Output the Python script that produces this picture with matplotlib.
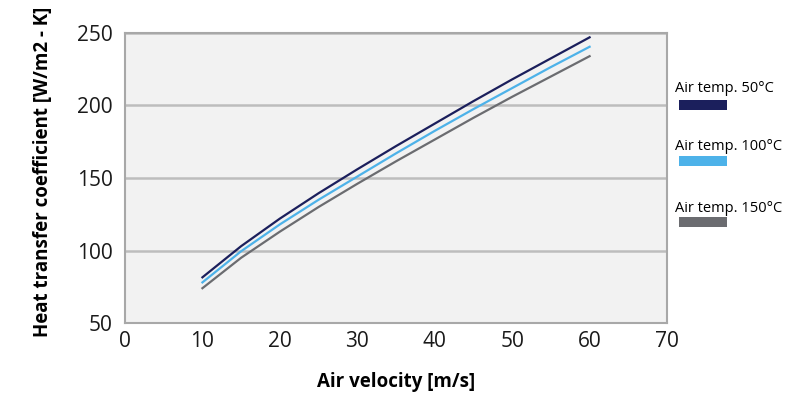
"""Heat transfer coefficient vs air velocity for three air temperatures."""

import matplotlib
import matplotlib.pyplot as plt
from matplotlib.patches import Rectangle

matplotlib.use("Agg")

plt.rcParams["font.family"] = ["Open Sans", "DejaVu Sans"]

# data
velocity = [10, 15, 20, 25, 30, 35, 40, 45, 50, 55, 60]
htc_50 = [81.5, 103, 122, 139.5, 156, 172, 187.5, 203, 218, 232.5, 247]
htc_100 = [78, 99.5, 118, 135, 151, 167, 182.5, 197.5, 212, 226.5, 240.5]
htc_150 = [74, 95, 113, 130, 146, 161.5, 176.5, 191.5, 206, 220, 234]

series_labels = ["Air temp. 50°C", "Air temp. 100°C", "Air temp. 150°C"]
series_colors = ["#1b1f5c", "#4db2e9", "#6b6c70"]

x_ticks = [0, 10, 20, 30, 40, 50, 60, 70]
y_ticks = [50, 100, 150, 200, 250]


def main():
    fig = plt.figure(figsize=(8.1, 3.96), dpi=100)
    ax = fig.add_axes([0.1543, 0.1843, 0.6692, 0.7324])
    ax.set_facecolor("#f2f2f2")

    for values, color in zip([htc_50, htc_100, htc_150], series_colors):
        ax.plot(velocity, values, color=color, linewidth=1.6)

    ax.set_xlim(0, 70)
    ax.set_ylim(50, 250)
    ax.set_xticks(x_ticks)
    ax.set_yticks(y_ticks)
    ax.tick_params(length=0, labelsize=15, colors="#1a1a1a")
    ax.tick_params(axis="x", pad=6)
    ax.tick_params(axis="y", pad=9)

    ax.grid(axis="y", color="#bdbdbd", linewidth=1.8)
    ax.set_axisbelow(True)
    for spine in ax.spines.values():
        spine.set_color("#a8a8a8")
        spine.set_linewidth(1.5)

    ax.set_xlabel("Air velocity [m/s]", fontsize=13.5, fontweight="bold", labelpad=14)
    ax.set_ylabel("Heat transfer coefficient [W/m2 - K]", fontsize=13.5, fontweight="bold")
    ax.yaxis.set_label_coords(-0.132, 0.52)

    # legend drawn at the right of the plot
    text_y = [88, 147, 208]
    patch_y = [105, 161, 222]
    for label, color, ty, py in zip(series_labels, series_colors, text_y, patch_y):
        fig.text(675 / 810, 1 - ty / 396, label, fontsize=10.5, va="center", ha="left")
        fig.patches.append(
            Rectangle(
                (679 / 810, 1 - (py + 5) / 396),
                48 / 810,
                10 / 396,
                transform=fig.transFigure,
                facecolor=color,
                edgecolor="none",
            )
        )

    fig.savefig("out.png", dpi=100)
    plt.close(fig)


if __name__ == "__main__":
    main()
